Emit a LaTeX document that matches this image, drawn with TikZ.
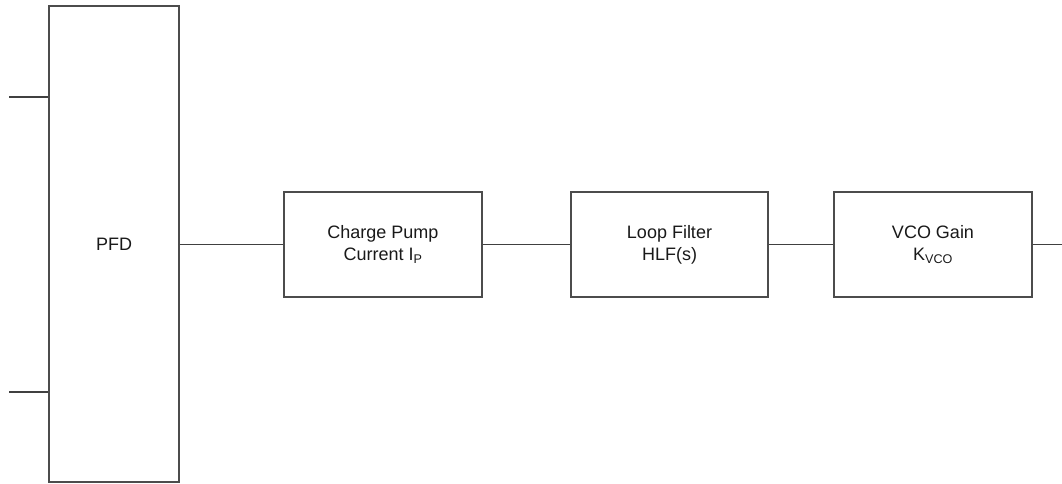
\documentclass[tikz,border=0pt]{standalone}
\usepackage{fontspec}
\setmainfont{Liberation Sans}
\usetikzlibrary{positioning}

\tikzset{
  blk/.style={draw=black!70, line width=1.3pt, align=center, text=black!90,
    font=\fontsize{18}{22}\selectfont, inner sep=0pt},
  wire/.style={draw=black!75, line width=1.3pt}
}

\begin{document}
\begin{tikzpicture}[x=1pt,y=-1pt]
\useasboundingbox (0,0) rectangle (1062,483);

% phase detector and the three loop blocks
\node[blk, minimum width=130pt, minimum height=476pt] (pfd) at (114,244) {PFD};
\node[blk, minimum width=198pt, minimum height=105pt] (cp) at (383,244.5) {Charge Pump\\Current I\textsubscript{P}};
\node[blk, minimum width=197pt, minimum height=105pt] (lf) at (669.5,244.5) {Loop Filter\\HLF(s)};
\node[blk, minimum width=198pt, minimum height=105pt] (vco) at (933,244.5) {VCO Gain\\K\textsubscript{VCO}};

% loose ends
\coordinate (ref) at (9,97);
\coordinate (fb) at (9,392);
\coordinate (out) at (1062,244.5);

\draw[wire] (ref) -- (ref -| pfd.west);
\draw[wire] (fb) -- (fb -| pfd.west);
\draw[wire] (pfd.east |- cp.west) -- (cp.west);
\draw[wire] (cp) -- (lf);
\draw[wire] (lf) -- (vco);
\draw[wire] (vco) -- (out);
\end{tikzpicture}
\end{document}
